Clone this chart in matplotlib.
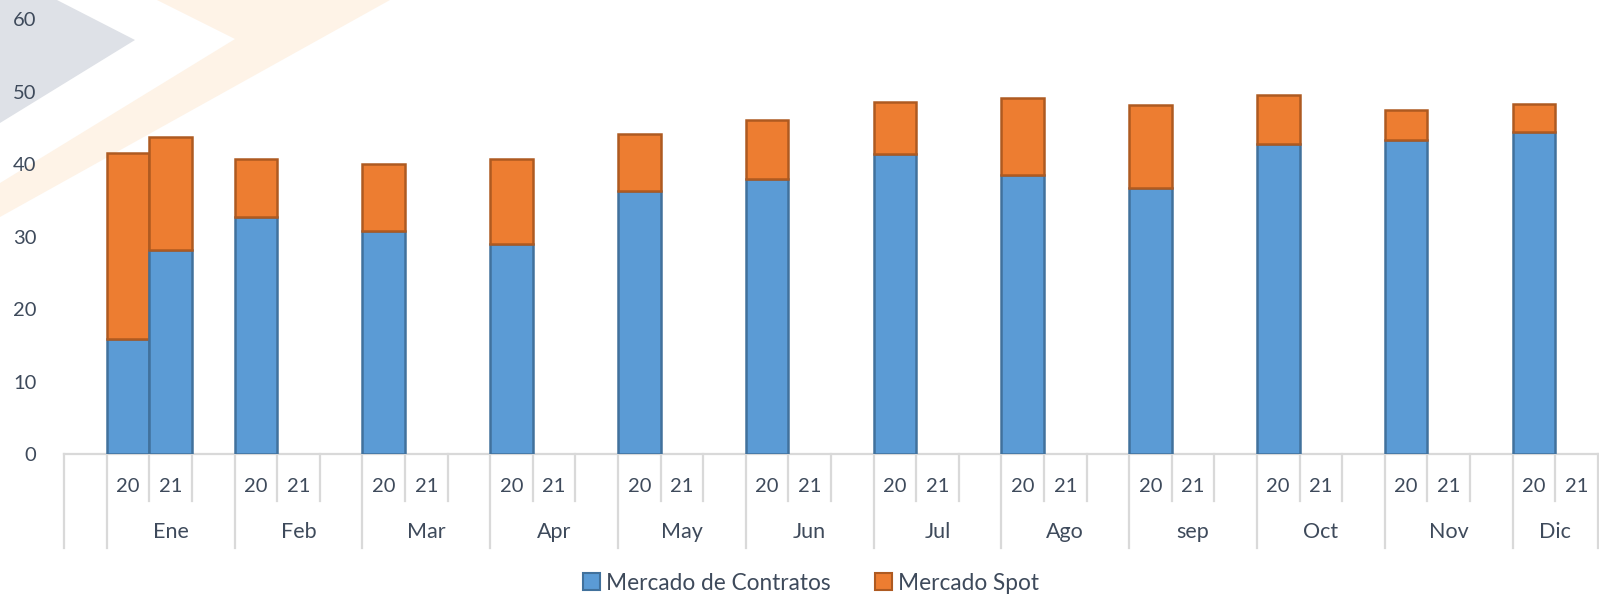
import numpy as np
import matplotlib
matplotlib.use("Agg")
import matplotlib.pyplot as plt
from matplotlib.patches import Patch, Polygon

plt.rcParams['font.family'] = ['Lato', 'DejaVu Sans']

months = ['Ene', 'Feb', 'Mar', 'Apr', 'May', 'Jun', 'Jul', 'Ago', 'sep', 'Oct', 'Nov', 'Dic']
years = ['20', '21']
contratos_20 = [15.9, 32.7, 30.8, 29.0, 36.3, 38.0, 41.4, 38.5, 36.8, 42.8, 43.3, 44.5]
spot_20 = [25.7, 8.0, 9.3, 11.7, 7.9, 8.1, 7.2, 10.7, 11.4, 6.7, 4.2, 3.8]
contratos_21 = [28.2, np.nan, np.nan, np.nan, np.nan, np.nan, np.nan, np.nan, np.nan, np.nan, np.nan, np.nan]
spot_21 = [15.6, np.nan, np.nan, np.nan, np.nan, np.nan, np.nan, np.nan, np.nan, np.nan, np.nan, np.nan]

blue, blue_edge = '#5B9BD5', '#41719C'
orange, orange_edge = '#ED7D31', '#AE5A21'
txt = '#3E4A5B'
grid = '#D9D9D9'

W, H = 1599, 596
fig = plt.figure(figsize=(W / 100, H / 100), dpi=100)

# faint watermark behind the chart
bg = fig.add_axes([0, 0, 1, 1], zorder=-1)
bg.set_xlim(0, W)
bg.set_ylim(H, 0)
bg.axis('off')
bg.add_patch(Polygon([(0, 0), (57, 0), (135, 40), (0, 123)], closed=True, color='#DEE1E7', lw=0))
bg.add_patch(Polygon([(157, 0), (235, 39), (0, 183), (0, 217), (390, 0)], closed=True, color='#FEF3E7', lw=0))

ax = fig.add_axes([64.3 / W, 1 - 454.3 / H, (1597.7 - 64.3) / W, (454.3 - 19.3) / H])
ax.patch.set_alpha(0)

# slot layout: one blank slot, then (20, 21, blank) per month, Dic has (20, 21)
n_slots = 1 + 3 * len(months) - 1
pos20 = np.array([1 + 3 * m for m in range(len(months))])
pos21 = pos20 + 1

ax.bar(pos20, contratos_20, width=1.0, color=blue, edgecolor=blue_edge, linewidth=1.8, zorder=3)
ax.bar(pos20, spot_20, bottom=contratos_20, width=1.0, color=orange, edgecolor=orange_edge, linewidth=1.8, zorder=3)
ax.bar(pos21, contratos_21, width=1.0, color=blue, edgecolor=blue_edge, linewidth=1.8, zorder=3)
ax.bar(pos21, spot_21, bottom=contratos_21, width=1.0, color=orange, edgecolor=orange_edge, linewidth=1.8, zorder=3)

ax.set_xlim(-0.5, n_slots - 0.5)
ax.set_ylim(0, 60)
ax.set_yticks(np.arange(0, 61, 10))
ax.tick_params(axis='y', length=0, pad=20, labelsize=14.5, labelcolor=txt)
ax.set_xticks([])
for s in ax.spines.values():
    s.set_visible(False)

# category axis with two levels
xt = ax.get_xaxis_transform()
ax.plot([-0.5, n_slots - 0.5], [0, 0], transform=xt, color=grid, lw=1.6, clip_on=False, zorder=2)
ylab_y, mlab_y = -0.073, -0.178
short_end, long_end = -0.107, -0.215
long_lines = [-0.5] + [0.5 + 3 * m for m in range(len(months))] + [n_slots - 0.5]
short_lines = []
for m in range(len(months)):
    short_lines.append(1.5 + 3 * m)
    if m < len(months) - 1:
        short_lines.append(2.5 + 3 * m)
for x in long_lines:
    ax.plot([x, x], [0, long_end], transform=xt, color=grid, lw=1.6, clip_on=False)
for x in short_lines:
    ax.plot([x, x], [0, short_end], transform=xt, color=grid, lw=1.6, clip_on=False)

for m, name in enumerate(months):
    for k, yr in enumerate(years):
        ax.text(pos20[m] + k, ylab_y, yr, transform=xt, ha='center', va='center', fontsize=14.5, color=txt)
    centre = (long_lines[m + 1] + long_lines[m + 2]) / 2
    ax.text(centre, mlab_y, name, transform=xt, ha='center', va='center', fontsize=15.5, color=txt)

handles = [Patch(facecolor=blue, edgecolor=blue_edge, lw=1.5, label='Mercado de Contratos'),
           Patch(facecolor=orange, edgecolor=orange_edge, lw=1.5, label='Mercado Spot')]
fig.legend(handles=handles, loc='center', bbox_to_anchor=(811 / W, 1 - 583 / H), ncol=2, frameon=False,
           fontsize=16.3, labelcolor=txt, handlelength=0.75, handleheight=0.75, handletextpad=0.25, columnspacing=2.0)

fig.savefig('out.png', dpi=100)
